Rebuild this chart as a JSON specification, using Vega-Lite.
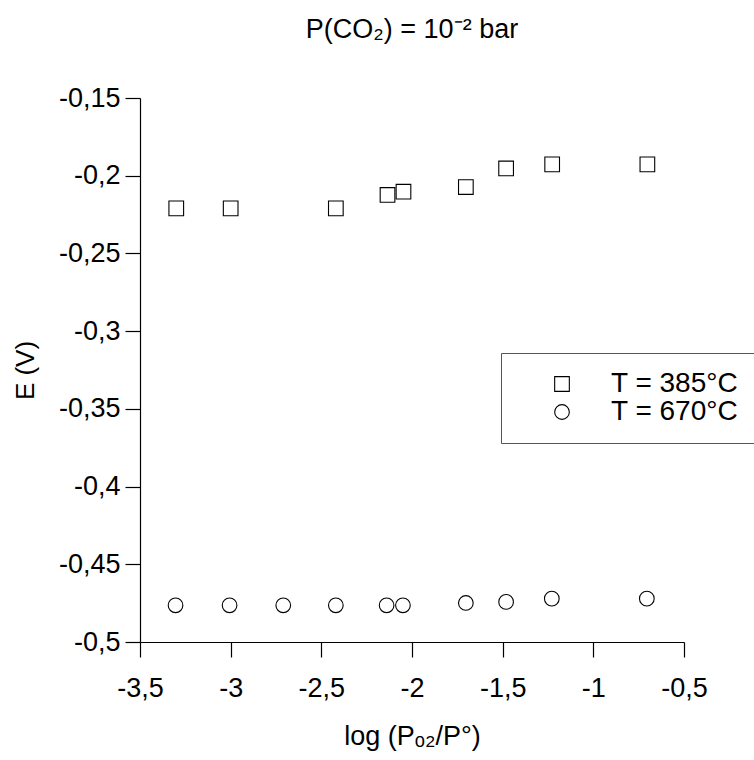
{
  "$schema": "https://vega.github.io/schema/vega-lite/v6.json",
  "autosize": {"type": "none"},
  "width": 544,
  "height": 544,
  "padding": {"left": 140, "top": 98, "right": 70, "bottom": 118},
  "background": "white",
  "title": {
    "text": "P(CO₂) = 10⁻² bar",
    "font": "Liberation Sans",
    "fontSize": 27,
    "fontWeight": "normal",
    "color": "black",
    "anchor": "middle",
    "frame": "group",
    "baseline": "alphabetic",
    "offset": 19
  },
  "config": {
    "view": {"stroke": null},
    "font": "Liberation Sans",
    "axis": {
      "grid": false,
      "labelFlush": false,
      "domainColor": "black",
      "domainWidth": 1.2,
      "tickColor": "black",
      "tickWidth": 1.2,
      "tickSize": 15,
      "labelFont": "Liberation Sans",
      "labelFontSize": 27,
      "labelColor": "black",
      "titleFont": "Liberation Sans",
      "titleFontSize": 26,
      "titleFontWeight": "normal",
      "titleColor": "black"
    }
  },
  "data": {
    "values": [
      {"series": "T = 385°C", "logP": -3.3, "E": -0.221},
      {"series": "T = 385°C", "logP": -3.0, "E": -0.221},
      {"series": "T = 385°C", "logP": -2.42, "E": -0.221},
      {"series": "T = 385°C", "logP": -2.135, "E": -0.2124},
      {"series": "T = 385°C", "logP": -2.047, "E": -0.2103},
      {"series": "T = 385°C", "logP": -1.703, "E": -0.2073},
      {"series": "T = 385°C", "logP": -1.481, "E": -0.1953},
      {"series": "T = 385°C", "logP": -1.227, "E": -0.1927},
      {"series": "T = 385°C", "logP": -0.702, "E": -0.1927},
      {"series": "T = 670°C", "logP": -3.304, "E": -0.4764},
      {"series": "T = 670°C", "logP": -3.006, "E": -0.4764},
      {"series": "T = 670°C", "logP": -2.71, "E": -0.4764},
      {"series": "T = 670°C", "logP": -2.42, "E": -0.4764},
      {"series": "T = 670°C", "logP": -2.14, "E": -0.4764},
      {"series": "T = 670°C", "logP": -2.05, "E": -0.4764},
      {"series": "T = 670°C", "logP": -1.703, "E": -0.4749},
      {"series": "T = 670°C", "logP": -1.481, "E": -0.4742},
      {"series": "T = 670°C", "logP": -1.229, "E": -0.4721},
      {"series": "T = 670°C", "logP": -0.705, "E": -0.4721}
    ]
  },
  "mark": {"type": "point", "filled": false, "color": "black", "size": 215, "strokeWidth": 1.1, "opacity": 1},
  "encoding": {
    "x": {
      "field": "logP",
      "type": "quantitative",
      "scale": {"domain": [-3.5, -0.5], "nice": false, "zero": false},
      "axis": {
        "title": "log (Pₒ₂/P°)",
        "titleFontSize": 27,
        "values": [-3.5, -3, -2.5, -2, -1.5, -1, -0.5],
        "labelExpr": "replace(replace(format(datum.value, '.2~f'), '−', '-'), '.', ',')",
        "labelPadding": 18,
        "titlePadding": 22
      }
    },
    "y": {
      "field": "E",
      "type": "quantitative",
      "scale": {"domain": [-0.5, -0.15], "nice": false, "zero": false},
      "axis": {
        "title": "E (V)",
        "values": [-0.5, -0.45, -0.4, -0.35, -0.3, -0.25, -0.2, -0.15],
        "labelExpr": "replace(replace(format(datum.value, '.2~f'), '−', '-'), '.', ',')",
        "labelPadding": 5,
        "titlePadding": 20
      }
    },
    "shape": {
      "field": "series",
      "type": "nominal",
      "scale": {"domain": ["T = 385°C", "T = 670°C"], "range": ["square", "circle"]},
      "legend": {
        "title": null,
        "orient": "none",
        "legendX": 361,
        "legendY": 255,
        "strokeColor": "#555555",
        "padding": 17,
        "symbolOffset": 30,
        "labelOffset": 35,
        "symbolSize": 215,
        "symbolStrokeColor": "black",
        "symbolStrokeWidth": 1.1,
        "symbolFillColor": "transparent",
        "labelFont": "Liberation Sans",
        "labelFontSize": 28,
        "labelColor": "black",
        "rowPadding": -1,
        "encoding": {"legend": {"update": {"strokeWidth": {"value": 1.3}}}}
      }
    }
  }
}
